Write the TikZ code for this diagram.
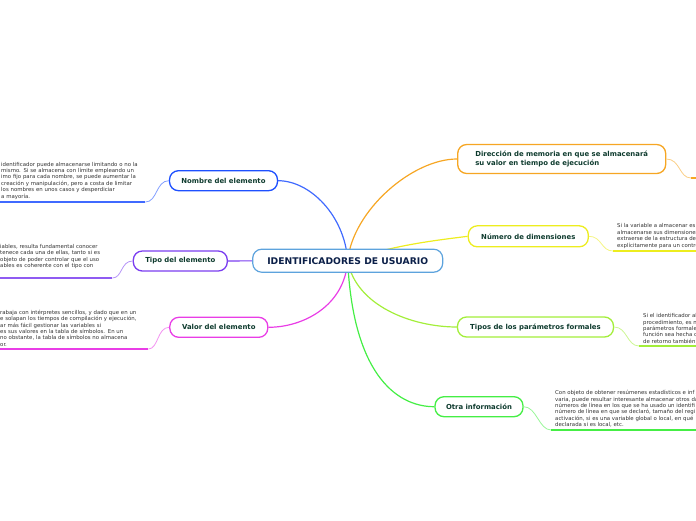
\documentclass[tikz,border=0pt]{standalone}
\usepackage{fontspec}
\setmainfont{DejaVu Sans}
\definecolor{RootBlue}{RGB}{93,163,221}
\definecolor{RootNavy}{RGB}{11,31,72}
\definecolor{LabelGreen}{RGB}{14,59,46}
\definecolor{LeafGray}{RGB}{51,51,51}
\definecolor{NameBlue}{RGB}{30,80,255}
\definecolor{TypePurple}{RGB}{123,62,240}
\definecolor{ValuePink}{RGB}{233,61,230}
\definecolor{AddrOrange}{RGB}{246,166,35}
\definecolor{DimYellow}{RGB}{237,237,31}
\definecolor{ParamLime}{RGB}{163,238,58}
\definecolor{InfoGreen}{RGB}{69,238,69}
\usepackage{tikz}
\usetikzlibrary{positioning,backgrounds,calc}

\begin{document}
\begin{tikzpicture}[x=1pt, y=-1pt,
    every node/.style={font=\fontsize{6.9}{8.2}\selectfont\bfseries, align=center, text=LabelGreen},
    root/.style={draw=RootBlue, fill=white, rounded corners=9pt, line width=1.2pt, minimum width=190pt, minimum height=23pt, inner sep=0pt, font=\fontsize{9.2}{10}\selectfont\bfseries, text=RootNavy},
    topic/.style={draw=#1, fill=white, rounded corners=9pt, line width=1.3pt, minimum height=20pt, inner sep=0pt},
    leaf/.style={font=\fontsize{5.4}{6.4}\selectfont, text=LeafGray, align=left, inner xsep=0pt, inner ysep=2.5pt},
    arr/.style={draw=#1, line width=1.2pt},
    twig/.style={draw=#1!55, line width=0.8pt},
    rule/.style={draw=#1, line width=2.4pt}
  ]
    \useasboundingbox (0,0) rectangle (696,520);
    \clip (0,0) rectangle (696,520);
    \node[root] (root) at (347.7,260.7) {IDENTIFICADORES DE USUARIO};
    \node[topic=NameBlue, minimum width=108pt] (name) at (223.5,180.7) {Nombre del elemento};
    \node[topic=TypePurple, minimum width=94pt] (type) at (180.3,261) {Tipo del elemento};
    \node[topic=ValuePink, minimum width=98pt] (value) at (218.8,327.3) {Valor del elemento};
    \node[topic=AddrOrange, minimum width=208pt, minimum height=29pt, align=left] (addr) at (561.7,159) {Dirección de memoria en que se almacenará\\su valor en tiempo de ejecución};
    \node[topic=DimYellow, minimum width=120pt, minimum height=21pt] (dim) at (528.3,236.3) {Número de dimensiones};
    \node[topic=ParamLime, minimum width=156pt] (param) at (535.5,327) {Tipos de los parámetros formales};
    \node[topic=InfoGreen, minimum width=88pt] (info) at (479,406.7) {Otra información};
    % texts of the branches
    \node[leaf, anchor=south west, text width=144pt] (nametxt) at (1,202) {identificador puede almacenarse limitando o no la\\mismo. Si se almacena con límite empleando un\\imo fijo para cada nombre, se puede aumentar la\\ creación y manipulación, pero a costa de limitar\\ los nombres en unos casos y desperdiciar\\a mayoría.};
    \node[leaf, anchor=south west, text width=112pt, inner ysep=8.9pt] (typetxt) at (0,278) {iables, resulta fundamental conocer\\tenece cada una de ellas, tanto si es\\ objeto de poder controlar que el uso\\ables es coherente con el tipo con};
    \node[leaf, anchor=south west, text width=148pt] (valuetxt) at (0,349) {rabaja con intérpretes sencillos, y dado que en un\\e solapan los tiempos de compilación y ejecución,\\ar más fácil gestionar las variables si\\es sus valores en la tabla de símbolos. En un\\no obstante, la tabla de símbolos no almacena\\or.};
    \coordinate (addrtxt) at (691,178);
    \node[leaf, anchor=south west, inner xsep=4pt] (dimtxt) at (613,251) {Si la variable a almacenar es\\almacenarse sus dimensiones\\extraerse de la estructura de\\explícitamente para un control};
    \node[leaf, anchor=south west, inner xsep=4pt] (paramtxt) at (639,346) {Si el identificador al\\procedimiento, es ne\\parámetros formales\\función sea hecha co\\de retorno también};
    \node[leaf, anchor=south west, inner xsep=4pt] (infotxt) at (551,430) {Con objeto de obtener resúmenes estadísticos e inf\\varia, puede resultar interesante almacenar otros da\\números de línea en los que se ha usado un identifi\\número de línea en que se declaró, tamaño del regi\\activación, si es una variable global o local, en qué\\declarada si es local, etc.};
    \begin{scope}[on background layer]
      \draw[arr=NameBlue!85] (root.center) .. controls +(-3,-45) and +(32,0) .. (name.east);
      \draw[arr=TypePurple] (root) -- (type);
      \draw[arr=ValuePink] (root.center) .. controls +(-3,45) and +(35,0) .. (value.east);
      \draw[arr=AddrOrange] (root.center) .. controls +(5,-50) and +(-45,0) .. (addr.west);
      \draw[arr=DimYellow] (root.center) .. controls +(45,-15) and +(-40,5) .. (dim.west);
      \draw[arr=ParamLime] (root.center) .. controls +(8,45) and +(-45,0) .. (param.west);
      \draw[arr=InfoGreen] (root.center) .. controls +(5,110) and +(-40,0) .. (info.west);
    \end{scope}
    \draw[twig=NameBlue] (name.west) .. controls +(-13,0) and +(12,0) .. (nametxt.south east);
    \draw[rule=NameBlue!85] (nametxt.south east) -- ++(-160,0);
    \draw[twig=TypePurple] (type.west) .. controls +(-12,0) and +(10,0) .. (typetxt.south east);
    \draw[rule=TypePurple!85] (typetxt.south east) -- ++(-160,0);
    \draw[twig=ValuePink] (value.west) .. controls +(-12,0) and +(10,0) .. (valuetxt.south east);
    \draw[rule=ValuePink] (valuetxt.south east) -- ++(-160,0);
    \draw[twig=AddrOrange] (addr.east) .. controls +(14,0) and +(-12,0) .. (addrtxt);
    \draw[rule=AddrOrange] (addrtxt) -- ++(20,0);
    \draw[twig=DimYellow] (dim.east) .. controls +(13,0) and +(-12,0) .. (dimtxt.south west);
    \draw[rule=DimYellow] (dimtxt.south west) -- ++(160,0);
    \draw[twig=ParamLime] (param.east) .. controls +(13,0) and +(-12,0) .. (paramtxt.south west);
    \draw[rule=ParamLime] (paramtxt.south west) -- ++(160,0);
    \draw[twig=InfoGreen] (info.east) .. controls +(13,0) and +(-12,0) .. (infotxt.south west);
    \draw[rule=InfoGreen] (infotxt.south west) -- ++(160,0);
  \end{tikzpicture}
\end{document}
